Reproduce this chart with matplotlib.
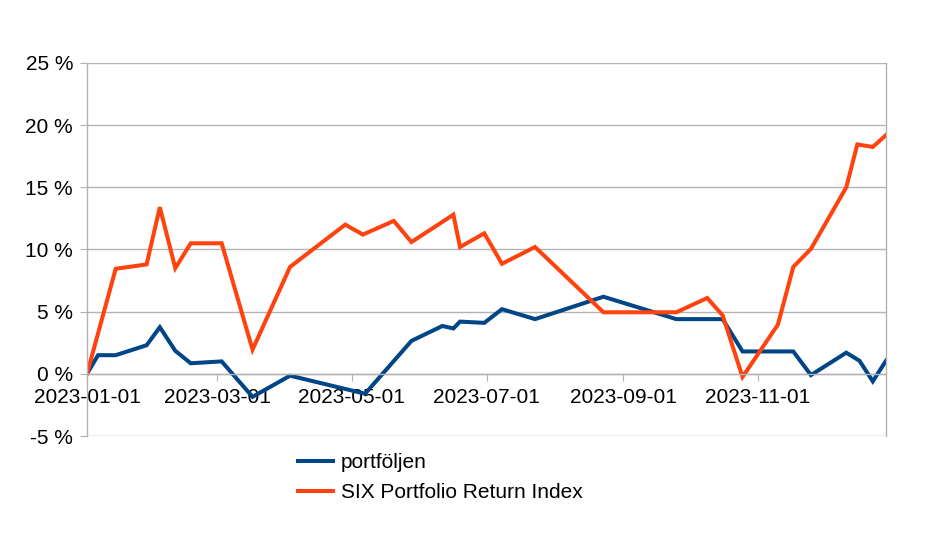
import pandas as pd
import matplotlib
matplotlib.use('Agg')
from matplotlib import pyplot as plt
import matplotlib.dates as mdates
from matplotlib.ticker import FuncFormatter

plt.rcParams['font.family'] = ['Liberation Sans', 'DejaVu Sans']

# Data (percent)
portfolj_dates = ['2023-01-01', '2023-01-06', '2023-01-14', '2023-01-28', '2023-02-03',
                  '2023-02-10', '2023-02-17', '2023-03-03', '2023-03-17', '2023-04-03',
                  '2023-05-07', '2023-05-28', '2023-06-11', '2023-06-16', '2023-06-19',
                  '2023-06-30', '2023-07-08', '2023-07-23', '2023-08-23', '2023-09-25',
                  '2023-10-16', '2023-10-25', '2023-11-17', '2023-11-25', '2023-12-11',
                  '2023-12-17', '2023-12-23', '2023-12-29']
portfolj_values = [0.0, 1.5, 1.5, 2.3, 3.75,
                   1.85, 0.85, 1.0, -1.85, -0.15,
                   -1.6, 2.65, 3.85, 3.65, 4.2,
                   4.1, 5.2, 4.4, 6.2, 4.4,
                   4.4, 1.8, 1.8, -0.1, 1.7,
                   1.05, -0.6, 1.05]

six_dates = ['2023-01-01', '2023-01-14', '2023-01-28', '2023-02-03', '2023-02-10',
             '2023-02-17', '2023-03-03', '2023-03-17', '2023-04-03', '2023-04-28',
             '2023-05-06', '2023-05-20', '2023-05-28', '2023-06-16', '2023-06-19',
             '2023-06-30', '2023-07-08', '2023-07-23', '2023-08-23', '2023-09-25',
             '2023-10-09', '2023-10-16', '2023-10-25', '2023-11-10', '2023-11-17',
             '2023-11-25', '2023-12-11', '2023-12-16', '2023-12-23', '2023-12-29']
six_values = [0.0, 8.45, 8.8, 13.4, 8.5,
              10.5, 10.5, 1.95, 8.6, 12.0,
              11.2, 12.3, 10.6, 12.8, 10.2,
              11.3, 8.85, 10.2, 4.95, 4.95,
              6.1, 4.7, -0.25, 3.95, 8.6,
              10.05, 15.0, 18.45, 18.25, 19.2]

x_ticks = ['2023-01-01', '2023-03-01', '2023-05-01', '2023-07-01', '2023-09-01', '2023-11-01']

grid_color = '#b3b3b3'

fig = plt.figure(figsize=(9.38, 5.33), dpi=100)
ax = fig.add_axes([87 / 938, 1 - 436 / 533, (886 - 87) / 938, (436 - 63) / 533])

ax.plot(pd.to_datetime(portfolj_dates), portfolj_values, color='#004586', linewidth=2.9,
        label='portföljen', solid_joinstyle='miter')
ax.plot(pd.to_datetime(six_dates), six_values, color='#ff420e', linewidth=2.9,
        label='SIX Portfolio Return Index', solid_joinstyle='miter')

ax.set_xlim(pd.Timestamp(portfolj_dates[0]), pd.Timestamp(portfolj_dates[-1]))
ax.set_ylim(-5, 25)
ax.set_yticks(range(-5, 30, 5))
ax.yaxis.set_major_formatter(FuncFormatter(lambda v, p: f'{v:.0f} %'))
ax.set_xticks(pd.to_datetime(x_ticks))
ax.xaxis.set_major_formatter(mdates.DateFormatter('%Y-%m-%d'))

ax.grid(axis='y', color=grid_color, linewidth=1)
ax.set_axisbelow(True)
ax.spines['top'].set_visible(False)
ax.spines['bottom'].set_position(('data', 0))
for s in ['bottom', 'left', 'right']:
    ax.spines[s].set_color(grid_color)
    ax.spines[s].set_linewidth(1)

ax.tick_params(axis='both', colors=grid_color, labelcolor='black', labelsize=15)
ax.tick_params(axis='y', length=5, pad=5)
ax.tick_params(axis='x', length=5, pad=5)

ax.legend(loc='upper left', bbox_to_anchor=(298 / 938, 1 - 453 / 533),
          bbox_transform=fig.transFigure, frameon=False, fontsize=15,
          handlelength=1.7, handletextpad=0.35, labelspacing=0.55, borderpad=0,
          borderaxespad=0)

fig.savefig('out.png', dpi=100)
